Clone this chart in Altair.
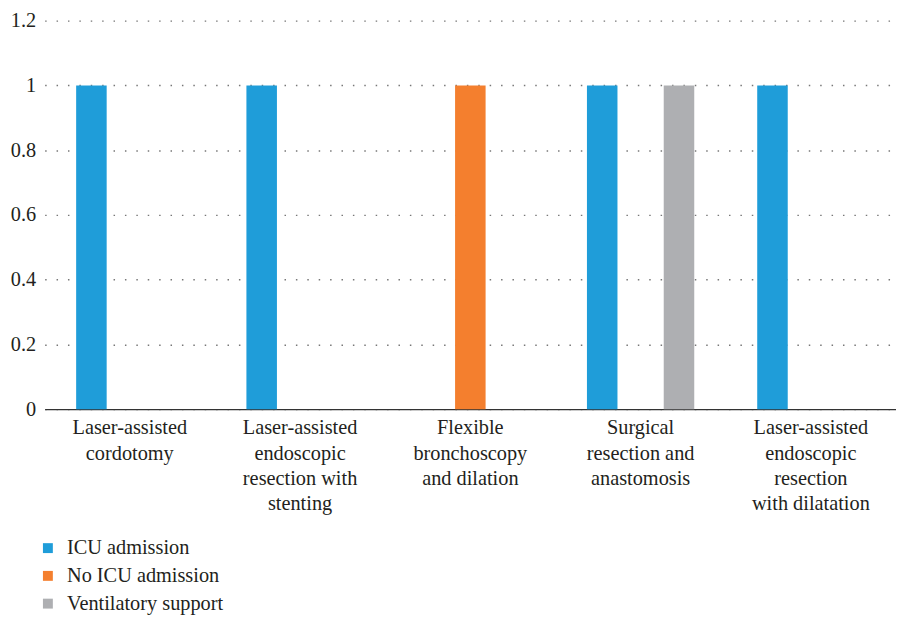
import altair as alt
import pandas as pd

categories = [
    "Laser-assisted\ncordotomy",
    "Laser-assisted\nendoscopic\nresection with\nstenting",
    "Flexible\nbronchoscopy\nand dilation",
    "Surgical\nresection and\nanastomosis",
    "Laser-assisted\nendoscopic\nresection\nwith dilatation",
]
series = ["ICU admission", "No ICU admission", "Ventilatory support"]
icu = [1, 1, 0, 1, 1]
no_icu = [0, 0, 1, 0, 0]
vent = [0, 0, 0, 1, 0]
colors = ["#1F9DD9", "#F47F2E", "#AEAFB2"]
y_ticks = [0, 0.2, 0.4, 0.6, 0.8, 1.0, 1.2]

rows = []
for i, c in enumerate(categories):
    for s, vals in zip(series, [icu, no_icu, vent]):
        rows.append({"category": c, "series": s, "value": vals[i]})
df = pd.DataFrame(rows)

FONT = "Liberation Serif"
TXT = "#231F20"

chart = alt.Chart(df).mark_bar().encode(
    x=alt.X(
        "category:N",
        sort=categories,
        title=None,
        scale=alt.Scale(paddingInner=0, paddingOuter=0),
        axis=alt.Axis(
            labelAngle=0,
            labelExpr="split(datum.label, '\\n')",
            labelFont=FONT,
            labelFontSize=20.5,
            labelColor=TXT,
            labelLineHeight=25.5,
            labelPadding=9,
            labelBaseline="top",
            labelBound=False,
            labelOverlap=False,
            ticks=False,
            domain=True,
            domainColor="#333333",
            domainWidth=1.5,
            grid=False,
        ),
    ),
    xOffset=alt.XOffset(
        "series:N",
        sort=series,
        scale=alt.Scale(paddingInner=0.205, paddingOuter=0.82),
    ),
    y=alt.Y(
        "value:Q",
        title=None,
        scale=alt.Scale(domain=[0, 1.2], nice=False),
        axis=alt.Axis(
            values=y_ticks,
            format="~g",
            labelFont=FONT,
            labelFontSize=20.5,
            labelColor=TXT,
            labelPadding=9,
            ticks=False,
            domain=False,
            grid=True,
            gridColor="#777777",
            gridDash=[1.5, 10],
            gridWidth=1.5,
        ),
    ),
    color=alt.Color(
        "series:N",
        sort=series,
        scale=alt.Scale(domain=series, range=colors),
        legend=alt.Legend(
            title=None,
            orient="none",
            legendX=-7,
            legendY=522,
            padding=0,
            direction="vertical",
            symbolType="square",
            symbolSize=100,
            symbolStrokeWidth=0,
            labelFont=FONT,
            labelFontSize=20.5,
            labelColor=TXT,
            labelOffset=9,
            rowPadding=7,
        ),
    ),
).properties(
    width=859,
    height=392,
    autosize=alt.AutoSizeParams(type="none"),
    padding={"left": 37, "top": 10, "right": 0, "bottom": 206},
).configure_view(stroke=None)

chart.save("out.html", embed_options={"renderer": "svg", "actions": False})
